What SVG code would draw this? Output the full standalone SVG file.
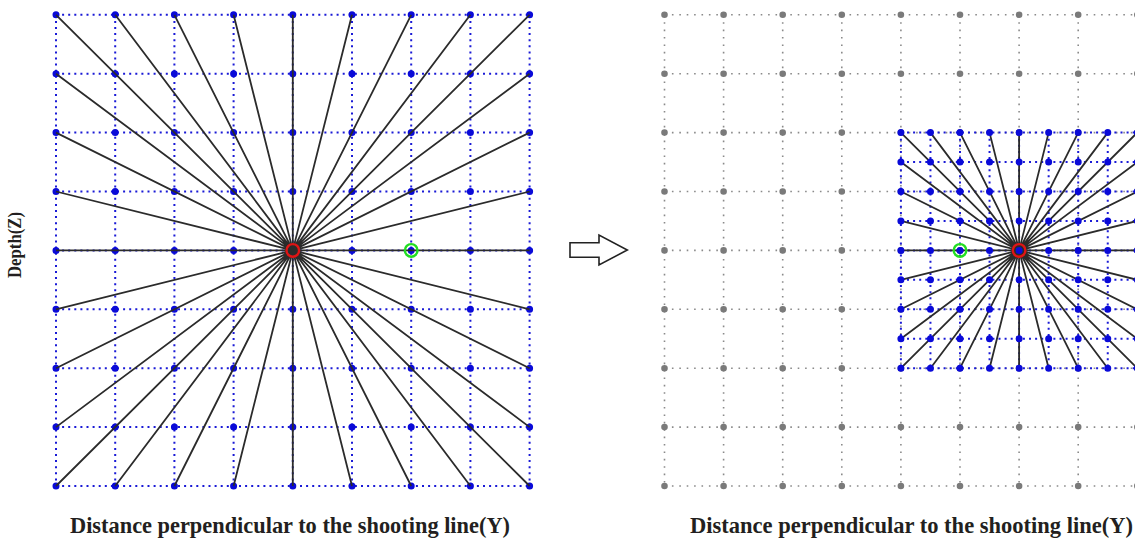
<svg xmlns="http://www.w3.org/2000/svg" width="1135" height="538" viewBox="0 0 1135 538">
<style>
.bl{stroke:#1a1ad6;stroke-width:2;stroke-dasharray:2 4.1;fill:none}
.gr{stroke:#8a8a8a;stroke-width:1.6;stroke-dasharray:1.6 5.8;fill:none}
.ray{stroke:#2b2b2b;stroke-width:1.8;fill:none}
.dl{stroke:#0a0ad8;stroke-width:7;stroke-linecap:round;stroke-dasharray:0 59.2;fill:none}
.dg{stroke:#7a7a7a;stroke-width:6.6;stroke-linecap:round;stroke-dasharray:0 59.1;fill:none}
.df{stroke:#0a0ad8;stroke-width:7;stroke-linecap:round;stroke-dasharray:0 29.55;fill:none}
.red{stroke:#e01515;stroke-width:2.4;fill:none}
.grn{stroke:#22dd22;stroke-width:2.4;fill:none}
.lbl{font-family:"Liberation Serif","Times New Roman",serif;font-weight:bold;fill:#231f20}
</style>
<rect width="1135" height="538" fill="#ffffff"/>

<g id="left-grid">
<path class="bl" d="M56 14.8H529.6M56 73.7H529.6M56 132.6H529.6M56 191.5H529.6M56 250.4H529.6M56 309.3H529.6M56 368.2H529.6M56 427.1H529.6M56 486H529.6"/>
<path class="bl" d="M56 14.8V486M115.2 14.8V486M174.4 14.8V486M233.6 14.8V486M292.8 14.8V486M352 14.8V486M411.2 14.8V486M470.4 14.8V486M529.6 14.8V486"/>
<path class="dl" d="M56 14.8H529.7M56 73.7H529.7M56 132.6H529.7M56 191.5H529.7M56 250.4H529.7M56 309.3H529.7M56 368.2H529.7M56 427.1H529.7M56 486H529.7"/>
</g>

<g id="left-rays">
<path class="ray" d="M292.8 250.4L56 14.8M292.8 250.4L115.2 14.8M292.8 250.4L174.4 14.8M292.8 250.4L233.6 14.8M292.8 250.4L292.8 14.8M292.8 250.4L352 14.8M292.8 250.4L411.2 14.8M292.8 250.4L470.4 14.8M292.8 250.4L529.6 14.8
M292.8 250.4L56 486M292.8 250.4L115.2 486M292.8 250.4L174.4 486M292.8 250.4L233.6 486M292.8 250.4L292.8 486M292.8 250.4L352 486M292.8 250.4L411.2 486M292.8 250.4L470.4 486M292.8 250.4L529.6 486
M292.8 250.4L56 73.7M292.8 250.4L56 132.6M292.8 250.4L56 191.5M292.8 250.4L56 250.4M292.8 250.4L56 309.3M292.8 250.4L56 368.2M292.8 250.4L56 427.1
M292.8 250.4L529.6 73.7M292.8 250.4L529.6 132.6M292.8 250.4L529.6 191.5M292.8 250.4L529.6 250.4M292.8 250.4L529.6 309.3M292.8 250.4L529.6 368.2M292.8 250.4L529.6 427.1"/>
</g>

<g id="left-markers">
<circle class="red" cx="292.8" cy="250.4" r="6.3"/>
<circle class="grn" cx="411.2" cy="250.4" r="6.3"/>
</g>

<g id="arrow">
<polygon points="570,242.7 599,242.7 599,235 627.3,250 599,265 599,257.3 570,257.3" fill="#ffffff" stroke="#222222" stroke-width="1.6" stroke-linejoin="miter"/>
</g>

<g id="right-coarse-grid">
<path class="gr" d="M664.5 14.8H1137.3M664.5 73.7H1137.3M664.5 132.6H1137.3M664.5 191.5H1137.3M664.5 250.4H1137.3M664.5 309.3H1137.3M664.5 368.2H1137.3M664.5 427.1H1137.3M664.5 486H1137.3"/>
<path class="gr" d="M664.5 14.8V486M723.6 14.8V486M782.7 14.8V486M841.8 14.8V486M900.9 14.8V486M960 14.8V486M1019.1 14.8V486M1078.2 14.8V486M1137.3 14.8V486"/>
<path class="dg" d="M664.5 14.8H1137.4M664.5 73.7H1137.4M664.5 132.6H1137.4M664.5 191.5H1137.4M664.5 250.4H1137.4M664.5 309.3H1137.4M664.5 368.2H1137.4M664.5 427.1H1137.4M664.5 486H1137.4"/>
</g>

<g id="right-fine-grid">
<path class="bl" d="M900.9 132.6H1137.3M900.9 162.05H1137.3M900.9 191.5H1137.3M900.9 220.95H1137.3M900.9 250.4H1137.3M900.9 279.85H1137.3M900.9 309.3H1137.3M900.9 338.75H1137.3M900.9 368.2H1137.3"/>
<path class="bl" d="M900.9 132.6V368.2M930.45 132.6V368.2M960 132.6V368.2M989.55 132.6V368.2M1019.1 132.6V368.2M1048.65 132.6V368.2M1078.2 132.6V368.2M1107.75 132.6V368.2M1137.3 132.6V368.2"/>
</g>

<g id="right-rays">
<path class="ray" d="M1019.1 250.4L900.9 132.6M1019.1 250.4L930.45 132.6M1019.1 250.4L960 132.6M1019.1 250.4L989.55 132.6M1019.1 250.4L1019.1 132.6M1019.1 250.4L1048.65 132.6M1019.1 250.4L1078.2 132.6M1019.1 250.4L1107.75 132.6M1019.1 250.4L1137.3 132.6
M1019.1 250.4L900.9 368.2M1019.1 250.4L930.45 368.2M1019.1 250.4L960 368.2M1019.1 250.4L989.55 368.2M1019.1 250.4L1019.1 368.2M1019.1 250.4L1048.65 368.2M1019.1 250.4L1078.2 368.2M1019.1 250.4L1107.75 368.2M1019.1 250.4L1137.3 368.2
M1019.1 250.4L900.9 162.05M1019.1 250.4L900.9 191.5M1019.1 250.4L900.9 220.95M1019.1 250.4L900.9 250.4M1019.1 250.4L900.9 279.85M1019.1 250.4L900.9 309.3M1019.1 250.4L900.9 338.75
M1019.1 250.4L1137.3 162.05M1019.1 250.4L1137.3 191.5M1019.1 250.4L1137.3 220.95M1019.1 250.4L1137.3 250.4M1019.1 250.4L1137.3 279.85M1019.1 250.4L1137.3 309.3M1019.1 250.4L1137.3 338.75"/>
</g>

<g id="right-fine-dots">
<path class="df" d="M900.9 132.6H1137.4M900.9 162.05H1137.4M900.9 191.5H1137.4M900.9 220.95H1137.4M900.9 250.4H1137.4M900.9 279.85H1137.4M900.9 309.3H1137.4M900.9 338.75H1137.4M900.9 368.2H1137.4"/>
</g>

<g id="right-markers">
<circle class="red" cx="1019.1" cy="250.4" r="6.3"/>
<circle class="grn" cx="960" cy="250.4" r="6.3"/>
</g>

<g id="labels">
<text class="lbl" transform="translate(21,245) rotate(-90)" text-anchor="middle" font-size="19" textLength="66" lengthAdjust="spacingAndGlyphs">Depth(Z)</text>
<text class="lbl" x="70" y="533" font-size="22.5" textLength="440" lengthAdjust="spacingAndGlyphs">Distance perpendicular to the shooting line(Y)</text>
<text class="lbl" x="690" y="533" font-size="22.5" textLength="443" lengthAdjust="spacingAndGlyphs">Distance perpendicular to the shooting line(Y)</text>
</g>
</svg>
